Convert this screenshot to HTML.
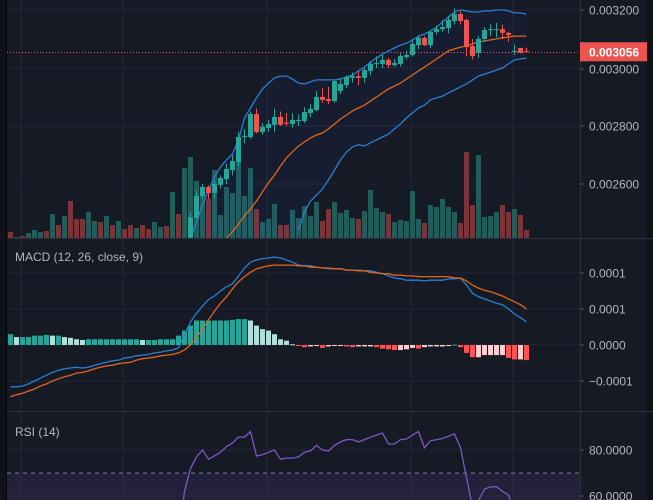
<!DOCTYPE html>
<html><head><meta charset="utf-8"><style>
html,body{margin:0;padding:0;background:#161a25;width:653px;height:500px;overflow:hidden}
svg{display:block;position:absolute;left:0;top:0}
text{font-family:"Liberation Sans",sans-serif}
</style></head><body>
<svg id="chart" width="653" height="500" xmlns="http://www.w3.org/2000/svg">
<rect x="0" y="0" width="653" height="500" fill="#161a25"/>
<rect x="0" y="0" width="6" height="500" fill="#0f1219"/>
<rect x="6" y="0" width="1" height="500" fill="#050608"/>
<rect x="647" y="0" width="6" height="500" fill="#0f1219"/>
<g id="grid"></g>
<g id="main" clip-path="url(#clipMain)"></g>
<g id="macd" clip-path="url(#clipMacd)"></g>
<g id="rsi" clip-path="url(#clipRsi)"></g>
<g id="axis"></g>
<defs>
<clipPath id="clipMain"><rect x="7" y="0" width="573" height="238"/></clipPath>
<clipPath id="clipMacd"><rect x="7" y="239" width="573" height="172"/></clipPath>
<clipPath id="clipRsi"><rect x="7" y="413" width="573" height="87"/></clipPath>
</defs>
</svg>
<script>
// ---- data ----
const candleStart = 30;
const opens  = [2414,2483,2559,2590,2569,2597,2617,2648,2676,2762,2762,2841,2779,2793,2804,2831,2812,2807,2819,2817,2845,2855,2900,2893,2886,2921,2941,2966,2972,2966,2990,3014,3014,3028,3010,3014,3038,3045,3079,3104,3079,3124,3134,3138,3162,3186,3166,3076,3052,3100,3131,3131,3134,3121,3055,3069,3059];
const highs  = [2500,2575,2600,2595,2612,2630,2670,2700,2780,2790,2850,2860,2810,2820,2860,2850,2845,2845,2840,2865,2875,2920,2930,2935,2960,2965,2975,2985,2990,3000,3020,3040,3045,3035,3030,3050,3060,3100,3110,3110,3130,3145,3165,3180,3205,3195,3170,3100,3110,3140,3150,3155,3150,3125,3080,3070,3070];
const lows   = [2400,2480,2550,2548,2550,2585,2600,2630,2660,2740,2755,2775,2770,2780,2780,2800,2800,2795,2800,2810,2830,2850,2880,2875,2880,2910,2930,2950,2940,2950,2975,3000,3000,3000,3005,3005,3030,3040,3065,3075,3070,3115,3125,3120,3150,3150,3040,3030,3035,3090,3110,3105,3100,3090,3045,3050,3055];
const closes = [2486,2559,2590,2569,2600,2621,2652,2679,2762,2766,2841,2779,2797,2807,2831,2804,2808,2821,2821,2848,2859,2900,2890,2886,2955,2945,2969,2972,2966,2993,3014,3017,3028,3010,3017,3041,3045,3083,3104,3079,3124,3134,3141,3166,3186,3162,3072,3041,3100,3131,3134,3134,3121,3114,3059,3052,3056];
const lastPrice = 3056;
const bbUpperStart = 30;
const bbUpper = [2414,2469,2528,2579,2624,2659,2683,2704,2752,2828,2862,2897,2928,2948,2966,2972,2972,2962,2948,2945,2952,2959,2959,2959,2959,2962,2969,2976,2990,3003,3021,3034,3048,3059,3069,3079,3086,3097,3110,3117,3128,3141,3159,3176,3193,3200,3197,3193,3193,3197,3197,3200,3200,3197,3190,3190,3186];
const bbMiddleStart = 36;
const bbMiddle = [2414,2435,2462,2490,2514,2541,2573,2604,2631,2662,2690,2711,2731,2745,2759,2769,2776,2790,2807,2824,2838,2852,2862,2872,2886,2900,2914,2928,2938,2948,2962,2976,2990,3003,3017,3031,3045,3059,3066,3072,3076,3083,3090,3093,3097,3100,3104,3107,3110,3110,3110];
const bbLowerStart = 48;
const bbLower = [2441,2504,2541,2562,2583,2614,2648,2683,2710,2728,2735,2731,2742,2752,2762,2772,2790,2807,2828,2845,2862,2872,2890,2897,2903,2914,2924,2935,2945,2959,2972,2979,2986,2993,3000,3014,3028,3031,3034];
const volumes = [6,1,2,5,8,6,7,24,13,22,37,19,19,26,17,16,22,13,17,9,13,10,13,9,16,11,12,46,24,70,81,57,48,39,68,23,51,45,78,42,70,29,16,19,34,13,13,28,20,32,22,36,17,29,36,25,28,20,19,27,48,30,26,24,16,18,17,47,19,15,33,31,39,31,26,15,86,33,83,21,22,26,33,26,29,23,8];
const volUp = [0,1,0,1,1,1,0,1,0,1,0,0,0,1,1,0,1,0,1,0,0,1,0,0,1,1,0,1,0,1,1,1,1,0,1,1,1,1,1,1,1,0,1,1,1,0,0,1,1,1,1,1,0,0,1,1,1,1,0,1,1,1,1,0,1,1,1,1,1,0,1,1,1,1,1,0,0,0,1,1,1,1,0,0,1,0,0];
const macdHist = [15,11,11,11,13,13,14,13,13,11,10,8,7,8,8,8,8,8,8,8,8,8,7,7,7,8,8,8,13,20,27,34,34,34,34,34,34,35,36,36,34,27,22,20,15,8,6,1,-1,-3,-2,-1,-4,-2,-1,-1,-2,-3,-2,-2,-2,-3,-5,-6,-7,-7,-6,-4,-5,-3,-2,-2,-2,-1,0.5,-3,-11,-17,-17,-14,-14,-14,-14,-18,-20,-20,-21];
const macdLine = [-58,-58,-57,-54,-50,-46,-42,-38,-35,-33,-32,-31,-32,-31,-28,-26,-24,-22,-21,-18,-17,-15,-14,-13,-11,-10,-8,-7,-4,14,32,44,54,63,68,75,81,85,96,107,115,118,120,121,122,121,118,115,111,110,110,108,107,106,106,106,104,104,104,103,103,101,99,96,93,92,90,90,90,89,90,90,90,92,92,93,83,72,67,64,61,58,56,50,43,38,32];
const signalLine = [-72,-69,-67,-64,-61,-57,-54,-50,-47,-44,-42,-39,-38,-36,-33,-31,-29,-28,-26,-25,-24,-21,-19,-18,-17,-15,-14,-13,-11,-7,0,10,22,35,47,58,67,78,88,95,101,106,108,110,111,111,111,111,110,110,108,108,107,107,106,106,104,104,103,103,101,100,99,99,97,97,96,96,95,95,95,95,95,95,93,93,89,83,79,76,74,71,68,64,60,56,50];
const rsiValues = [35,35,35,35,35,35,35,35,35,35,35,35,35,35,35,35,35,35,35,35,35,35,35,35,35,35,35,35,40,62,72,77,80,76,77.5,79,81.5,83,85.6,85.6,88,77.4,78,79,80,76,76.5,76.5,77,79,79.6,82,80,79.6,82,83.5,84.5,84.5,83.5,84.5,85.6,86.5,87.4,82.6,82.6,84.5,84.8,86.5,88,81,84,84.5,85,86,87,81,68,55,58,63,64,64,62,60.5,52,50,48];
const priceTicks = [3200,3000,2800,2600];
const priceTickLabels = ["0.003200","0.003000","0.002800","0.002600"];
const macdTicks = [100,50,0,-50];
const macdTickLabels = ["0.0001","0.0001","0.0000","\u22120.0001"];
const rsiTicks = [80,60];
const rsiTickLabels = ["80.0000","60.0000"];

// ---- scales ----
const NS="http://www.w3.org/2000/svg";
const xOf = i => 8 + 6*i + 2.5;
const yPrice = p => 10 + (3200 - p)*0.29;
const yVol = v => 238 - v;
const yMacd = v => 345 - v*0.72;
const yRsi = v => 450 + (80 - v)*2.3;
function mk(parent, tag, attrs){const e=document.createElementNS(NS,tag);for(const k in attrs)e.setAttribute(k,attrs[k]);parent.appendChild(e);return e;}
const G=id=>document.getElementById(id);
const grid=G('grid'), main=G('main'), macd=G('macd'), rsi=G('rsi'), axis=G('axis');

// grid
[21,123,267,411,513].forEach(x=>{const l=mk(grid,'line',{x1:x,y1:0,x2:x,y2:500,stroke:'#232733','stroke-width':1});

});
priceTicks.forEach(t=>{const l=mk(grid,'line',{x1:7,y1:yPrice(t),x2:580,y2:yPrice(t),stroke:'#232733'});

});
macdTicks.forEach(t=>{const l=mk(grid,'line',{x1:7,y1:yMacd(t),x2:580,y2:yMacd(t),stroke:'#232733'});

});
rsiTicks.forEach(t=>{const l=mk(grid,'line',{x1:7,y1:yRsi(t),x2:580,y2:yRsi(t),stroke:'#232733'});

});

// volume
volumes.forEach((v,i)=>{const r=mk(main,'rect',{x:xOf(i)-2.5,y:yVol(v),width:5,height:v,fill:volUp[i]?'#215e5b':'#7b3538'});

});

// bollinger fill
function pts(arr,start,fy){return arr.map((v,k)=>xOf(start+k).toFixed(1)+','+fy(v).toFixed(1));}
const up=pts(bbUpper,bbUpperStart,yPrice);
const lowFull=[];for(let i=bbUpperStart;i<bbLowerStart;i++)lowFull.push(xOf(i).toFixed(1)+','+(260).toFixed(1));
const lowPts=lowFull.concat(pts(bbLower,bbLowerStart,yPrice));
const band=mk(main,'polygon',{points:up.concat(lowPts.reverse()).join(' '),fill:'rgba(41,98,255,0.05)'});


const bu=mk(main,'polyline',{points:pts(bbUpper,bbUpperStart,yPrice).join(' '),fill:'none',stroke:'#2a7fd4','stroke-width':1.3});


const bm=mk(main,'polyline',{points:pts(bbMiddle,bbMiddleStart,yPrice).join(' '),fill:'none',stroke:'#e2661b','stroke-width':1.3});


const bl=mk(main,'polyline',{points:pts(bbLower,bbLowerStart,yPrice).join(' '),fill:'none',stroke:'#2a7fd4','stroke-width':1.3});



// candles
opens.forEach((o,k)=>{const i=candleStart+k,c=closes[k],col=c>=o?'#26a69a':'#ef5350',x=xOf(i);
const w=mk(main,'line',{x1:x,y1:yPrice(highs[k]),x2:x,y2:yPrice(lows[k]),stroke:col,'stroke-width':1});


const top=yPrice(Math.max(o,c)),bot=yPrice(Math.min(o,c));
const b=mk(main,'rect',{x:x-2.5,y:top,width:5,height:Math.max(1,bot-top),fill:col});

});

// last price line
const py=Math.round(yPrice(lastPrice))+0.5;
const pl=mk(main,'line',{x1:7,y1:py,x2:580,y2:py,stroke:'#ef5350','stroke-width':1,'stroke-dasharray':'1,2'});



// MACD
macdHist.forEach((v,i)=>{const prev=i>0?macdHist[i-1]:v;let col;
if(v>=0)col=v>=prev?'#26a69a':'#b2dfdb';else col=v<prev?'#ff5252':'#ffcdd2';
const y0=yMacd(0),y1=yMacd(v);
const r=mk(macd,'rect',{x:xOf(i)-2.5,y:Math.min(y0,y1),width:5,height:Math.max(1,Math.abs(y1-y0)),fill:col});

});
const ml=mk(macd,'polyline',{points:pts(macdLine,0,yMacd).join(' '),fill:'none',stroke:'#2a7fd4','stroke-width':1.3});


const sl=mk(macd,'polyline',{points:pts(signalLine,0,yMacd).join(' '),fill:'none',stroke:'#e2661b','stroke-width':1.3});



// RSI
const rb=mk(rsi,'rect',{x:7,y:yRsi(70),width:573,height:500-yRsi(70),fill:'rgba(126,87,194,0.13)'});


const rd=mk(rsi,'line',{x1:7,y1:yRsi(70),x2:580,y2:yRsi(70),stroke:'#787b86','stroke-dasharray':'4,4'});


const rl=mk(rsi,'polyline',{points:pts(rsiValues,0,yRsi).join(' '),fill:'none',stroke:'#7e57c2','stroke-width':1.3});



// separators and axis
[[7,238.5,653,238.5],[7,411.5,653,411.5],[580.5,0,580.5,500]].forEach(a=>{const l=mk(axis,'line',{x1:a[0],y1:a[1],x2:a[2],y2:a[3],stroke:'#2a2e39','stroke-width':1.2});

});
function tick(y,label,name){mk(axis,'line',{x1:580,y1:y,x2:584,y2:y,stroke:'#4a4e59'});
const t=mk(axis,'text',{x:589,y:y+4.5,fill:'#b2b5be','font-size':'12'});t.textContent=label;

}
priceTicks.forEach((t,k)=>tick(yPrice(t)+(t===3000?1:0),priceTickLabels[k],'price-tick-label'));
macdTicks.forEach((t,k)=>tick(yMacd(t),macdTickLabels[k],'macd-tick-label'));
rsiTicks.forEach((t,k)=>tick(yRsi(t),rsiTickLabels[k],'rsi-tick-label'));
const lb=mk(axis,'rect',{x:580,y:yPrice(lastPrice)-9.5,width:67,height:19,fill:'#ef5350'});


const lt=mk(axis,'text',{x:589,y:yPrice(lastPrice)+4.5,fill:'#ffffff','font-size':'12','font-weight':'bold'});
lt.textContent=(lastPrice/1e6).toFixed(6);


const t1=mk(axis,'text',{x:15,y:261,fill:'#b2b5be','font-size':'12'});t1.textContent='MACD (12, 26, close, 9)';


const t2=mk(axis,'text',{x:15,y:436,fill:'#b2b5be','font-size':'12'});t2.textContent='RSI (14)';


</script>
</body></html>
